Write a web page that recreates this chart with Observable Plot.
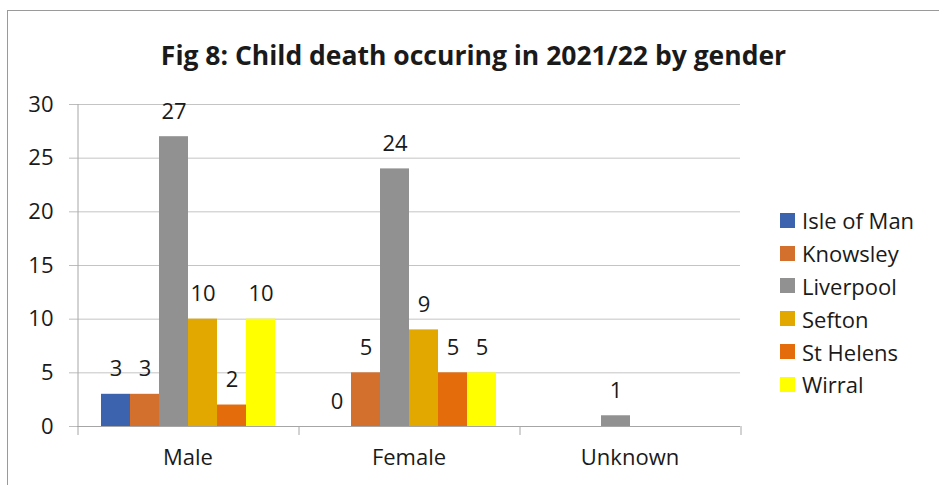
<!DOCTYPE html>
<html><head><meta charset="utf-8">
<script src="https://cdn.jsdelivr.net/npm/d3@7"></script>
<script src="https://cdn.jsdelivr.net/npm/@observablehq/plot@0.6"></script>
<style>
body{margin:0;background:#fff;font-family:"Open Sans",sans-serif;color:#1a1a1a}
#wrap{position:relative;width:939px;height:485px;overflow:hidden;background:#fff}
#border{position:absolute;left:7px;top:10px;width:960px;height:520px;border:1px solid #9a9a9a}
#title{position:absolute;left:0;width:939px;top:37px;text-align:center;font-weight:bold;font-size:26.5px;line-height:36px;padding-left:4px}
#chart{position:absolute;left:0;top:0}
#legend{position:absolute;left:780px;top:204px}
.li{display:flex;align-items:center;height:32.8px;font-size:22px}
.sw{width:15px;height:15px;margin-right:7px;flex:none}
</style>
</head><body>
<div id="wrap"><div id="border"></div><div id="chart"></div><div id="title"></div><div id="legend"></div></div>
<script>
const titleText = "Fig 8: Child death occuring in 2021/22 by gender";
const groups = ["Male", "Female", "Unknown"];
const series = ["Isle of Man", "Knowsley", "Liverpool", "Sefton", "St Helens", "Wirral"];
const colors = ["#3C64AE", "#D4702E", "#919191", "#E2A800", "#E46C0A", "#FFFF00"];
const male = [3, 3, 27, 10, 2, 10];
const female = [0, 5, 24, 9, 5, 5];
const unknown = [null, null, 1, null, null, null];
const yTicks = [0, 5, 10, 15, 20, 25, 30];

const valuesByGroup = [male, female, unknown];
const rows = [];
groups.forEach((g, gi) => series.forEach((s, si) => {
  const v = valuesByGroup[gi][si];
  if (v != null) rows.push({group: g, series: s, value: v});
}));

document.getElementById("title").textContent = titleText;
const leg = document.getElementById("legend");
series.forEach((s, i) => {
  const d = document.createElement("div"); d.className = "li";
  d.innerHTML = `<span class="sw" style="background:${colors[i]}"></span><span>${s}</span>`;
  leg.appendChild(d);
});

let frameCalls = 0;
function frameLines(index, scales, values, dims) {
  if (frameCalls++ > 0) return null;
  const {fx, y} = scales;
  const g = d3.create("svg:g").attr("stroke", "#a6a6a6").attr("fill", "none");
  let xs;
  if (fx) {
    const bw = typeof fx.bandwidth === "function" ? fx.bandwidth() : fx.bandwidth;
    xs = groups.map(k => fx(k)).concat([fx(groups[groups.length - 1]) + bw]);
  } else {
    const w = (dims.width - dims.marginLeft - dims.marginRight) / groups.length;
    xs = d3.range(groups.length + 1).map(k => dims.marginLeft + k * w);
  }
  const y0 = y(0), yTop = y(30);
  xs.forEach((x, i) => {
    g.append("line").attr("x1", x).attr("x2", x)
      .attr("y1", i === 0 ? yTop : y0).attr("y2", y0 + 9);
  });
  return g.node();
}

const chart = Plot.plot({
  width: 939, height: 485,
  marginLeft: 76, marginRight: 199, marginTop: 104, marginBottom: 59,
  style: {fontFamily: "'Open Sans', sans-serif", fontSize: "22px", color: "#1a1a1a", background: "transparent"},
  fx: {domain: groups, padding: 0, label: null},
  x: {domain: series, paddingInner: 0, paddingOuter: 0.75, axis: null},
  y: {domain: [0, 30], label: null},
  color: {domain: series, range: colors},
  marks: [
    Plot.gridY(yTicks, {stroke: "#c4c4c4", strokeOpacity: 1}),
    Plot.axisY(yTicks, {tickSize: 8, tickPadding: 16, stroke: "#bdbdbd", label: null, fontSize: 22}),
    Plot.axisFx({anchor: "bottom", tickSize: 0, tickPadding: 23, fontSize: 22, label: null}),
    Plot.barY(rows, {fx: "group", x: "series", y: "value", fill: "series"}),
    Plot.text(rows, {fx: "group", x: "series", y: "value", text: d => String(d.value), dy: -25, fontSize: 22, fill: "#1a1a1a"}),
    Plot.ruleY([0], {stroke: "#a6a6a6"}),
    frameLines
  ]
});
document.getElementById("chart").appendChild(chart);
</script>
</body></html>
